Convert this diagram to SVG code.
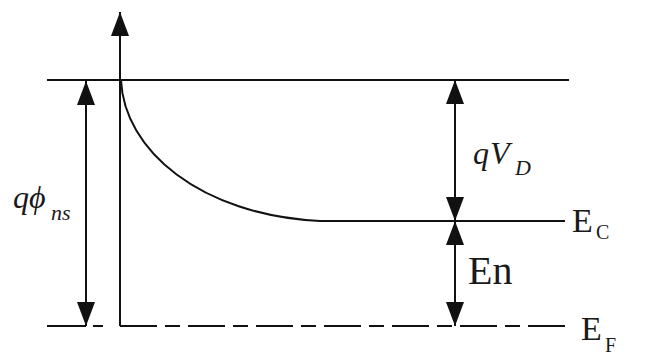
<svg xmlns="http://www.w3.org/2000/svg" width="648" height="364" viewBox="0 0 648 364">
<style>
.ln{stroke:#111;stroke-width:2;fill:none}
.ar{stroke:#111;stroke-width:2;fill:none}
.tx{font-family:'Liberation Serif',LiberationSerif,Tinos,'DejaVu Serif','Noto Serif',FreeSerif,'Times New Roman',serif;fill:#1a1a1a}
.it{font-style:italic}
</style>
<defs>
<marker id="ah" viewBox="0 0 24 18" refX="24" refY="9" markerWidth="24" markerHeight="18" markerUnits="userSpaceOnUse" orient="auto">
<path d="M0,0 L24,9 L0,18 Z" fill="#111"/>
</marker>
</defs>
<rect width="648" height="364" fill="#fff"/>
<g id="levels">
<line class="ln" x1="47" y1="80" x2="569" y2="80"/>
<path class="ln" d="M121,80 C124,150 200,215 320,221 L565,221"/>
<line class="ln" x1="47" y1="326" x2="86" y2="326"/>
<line class="ln" x1="93" y1="326" x2="103" y2="326"/>
<line class="ln" x1="120" y1="326" x2="565" y2="326" stroke-dasharray="37 8 15 8"/>
</g>
<g id="connectors">
<line class="ar" x1="120" y1="326" x2="120" y2="12" marker-end="url(#ah)"/>
<line class="ar" x1="86" y1="200" x2="86" y2="81" marker-end="url(#ah)"/>
<line class="ar" x1="86" y1="200" x2="86" y2="326" marker-end="url(#ah)"/>
<line class="ar" x1="455" y1="150" x2="455" y2="80" marker-end="url(#ah)"/>
<line class="ar" x1="455" y1="150" x2="455" y2="221" marker-end="url(#ah)"/>
<line class="ar" x1="455" y1="270" x2="455" y2="221" marker-end="url(#ah)"/>
<line class="ar" x1="455" y1="270" x2="455" y2="326" marker-end="url(#ah)"/>
</g>
<g id="label-qphins">
<text class="tx it" x="13" y="208" font-size="32">q<tspan x="29">ϕ</tspan><tspan x="51" y="220" font-size="22">ns</tspan></text>
</g>
<g id="label-qVD">
<text class="tx it" x="473" y="164" font-size="32">q<tspan x="490">V</tspan><tspan x="515" y="175" font-size="22">D</tspan></text>
</g>
<g id="label-En">
<text class="tx" x="468" y="284" font-size="40">En</text>
</g>
<g id="label-Ec">
<text class="tx" x="572" y="232" font-size="34">E<tspan x="596" y="239" font-size="20">C</tspan></text>
</g>
<g id="label-EF">
<text class="tx" x="581" y="340" font-size="34">E<tspan x="605" y="352" font-size="20">F</tspan></text>
</g>
</svg>
